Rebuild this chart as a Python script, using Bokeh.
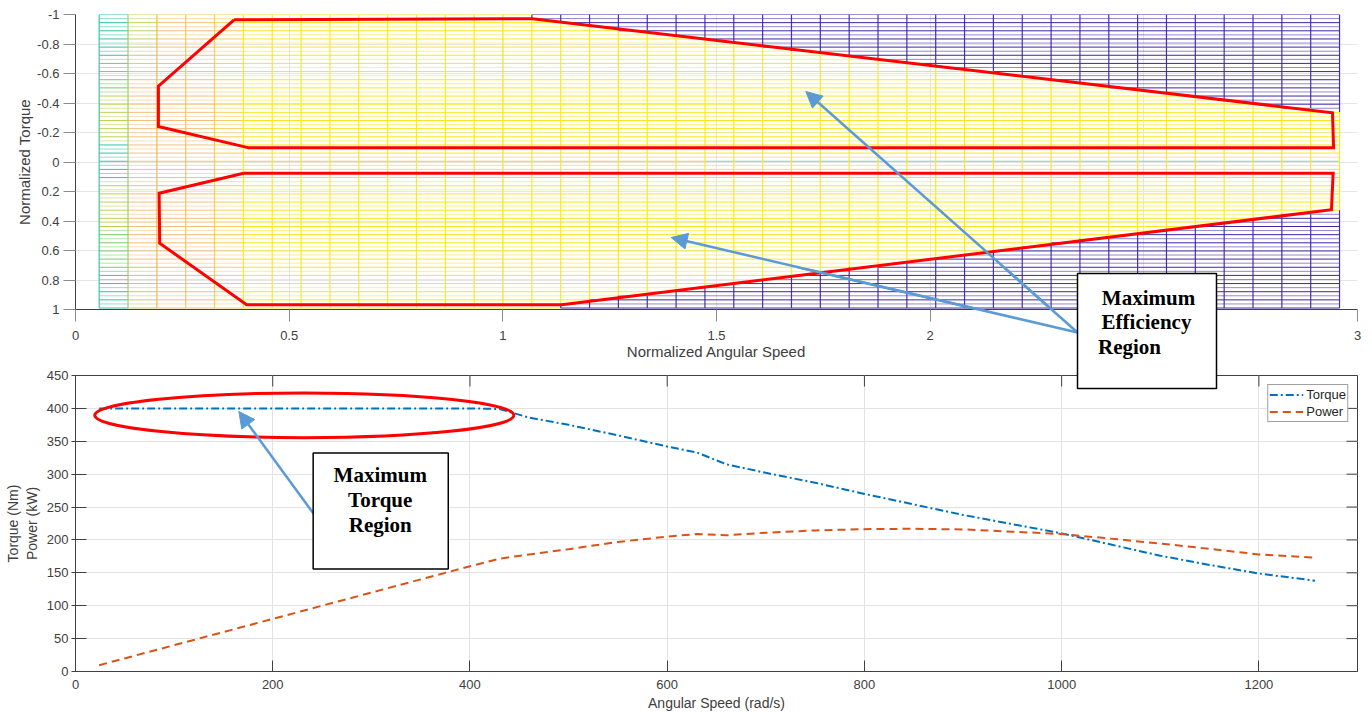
import numpy as np
from bokeh.plotting import figure
from bokeh.layouts import column
from bokeh.models import (Range1d, FixedTicker, CustomJSTickFormatter, Arrow, NormalHead,
                          Label, BoxAnnotation, Legend, LegendItem, ColumnDataSource)
from bokeh.embed import file_html
from bokeh.resources import INLINE

# ---------------- top panel: normalized efficiency map ----------------
# mesh grid of the map (first value, last value, number of grid lines)
mesh_speed_first, mesh_speed_last, mesh_speed_count = 0.0554, 2.958, 44
mesh_torque_first, mesh_torque_last, mesh_torque_count = -1.0, 0.99, 73

# colour zones of the map along the speed axis
zone_speed_edges = [0.123, 0.19, 0.325, 0.39]

# boundary of the low-efficiency (blue) area
low_eff_upper_speed = [1.06, 2.958]
low_eff_upper_torque = [-0.971, -0.33]
low_eff_lower_speed = [1.13, 2.958]
low_eff_lower_torque = [0.968, 0.317]

# red outlines of the maximum efficiency regions
upper_region_speed = [0.371, 1.069, 2.9415, 2.944, 0.406, 0.194, 0.194, 0.371]
upper_region_torque = [-0.964, -0.971, -0.334, -0.096, -0.096, -0.241, -0.514, -0.964]
lower_region_speed = [0.3935, 2.943, 2.939, 1.138, 0.4005, 0.197, 0.1957, 0.3935]
lower_region_torque = [0.076, 0.076, 0.324, 0.968, 0.968, 0.5505, 0.2115, 0.076]

top_x_ticks = [0, 0.5, 1, 1.5, 2, 2.5, 3]
top_y_ticks = [-1, -0.8, -0.6, -0.4, -0.2, 0, 0.2, 0.4, 0.6, 0.8, 1]

# ---------------- bottom panel: torque / power curves ----------------
speed = [24, 100, 200, 300, 400, 430, 460, 500, 550, 600, 630, 660, 700, 750, 800,
         850, 900, 950, 1000, 1050, 1100, 1150, 1200, 1257]
torque = [400, 400, 400, 400, 400, 399, 386, 375, 359, 342, 333, 315, 302, 287, 270,
          254, 238, 224, 210, 193, 176, 162, 149, 138]
power = [9.6, 40, 80, 120, 160, 171.5, 178, 186, 197, 205, 209, 207, 211, 214.5, 216.4,
         217, 216, 212.6, 209, 202, 194.5, 186.5, 178, 173]
bottom_x_ticks = [0, 200, 400, 600, 800, 1000, 1200]
bottom_y_ticks = [0, 50, 100, 150, 200, 250, 300, 350, 400, 450]

# ---------------- styling ----------------
FONT = "Liberation Sans"
SERIF = "Liberation Serif"
AX = "#404040"
TICKC = "#8c8c8c"
ARROWC = "#5B9BD5"
TEAL, GREEN, YGREEN = "#35c4a6", "#7ccb66", "#bcd34e"
OLIVE, PEACH, LORANGE = "#c5cf5e", "#f6bf78", "#f8cf55"
YELLOW, BLUE = "#fbe81a", "#3e26a8"
MIDGREEN, MIDORANGE = "#86d49c", "#f3c068"

mesh_speed = np.linspace(mesh_speed_first, mesh_speed_last, mesh_speed_count)
mesh_torque = np.linspace(mesh_torque_first, mesh_torque_last, mesh_torque_count)


def is_low_eff(x, y):
    if x >= low_eff_upper_speed[0] and y < np.interp(x, low_eff_upper_speed, low_eff_upper_torque):
        return True
    if x >= low_eff_lower_speed[0] and y > np.interp(x, low_eff_lower_speed, low_eff_lower_torque):
        return True
    return False


def cell_colour(x, y):
    if is_low_eff(x, y):
        return BLUE
    ay = abs(y)
    if x < zone_speed_edges[0]:
        if ay < 0.12 or ay > 0.72:
            return TEAL
        return YGREEN if ay < 0.45 else GREEN
    if x < zone_speed_edges[1]:
        return OLIVE if ay > 0.7 else PEACH
    if x < zone_speed_edges[2]:
        return PEACH
    if x < zone_speed_edges[3]:
        return LORANGE
    if ay < 0.015:
        return MIDGREEN if x > 1.5 else MIDORANGE
    if ay < 0.04:
        return MIDORANGE
    return YELLOW


vert_colours = [TEAL, "#94cc70", "#eeb452", "#f4c062", "#f7cd48"]

hx0, hy0, hx1, hy1, hc, ha, hw = [], [], [], [], [], [], []
# horizontal mesh lines (merged runs of equal colour)
for j, yv in enumerate(mesh_torque):
    a = 1.0 if j % 2 == 0 else 0.55
    run_start, run_col = mesh_speed[0], None
    for i in range(len(mesh_speed) - 1):
        c = cell_colour(0.5 * (mesh_speed[i] + mesh_speed[i + 1]), yv)
        if run_col is None:
            run_col = c
        elif c != run_col:
            hx0.append(run_start); hx1.append(mesh_speed[i]); hy0.append(yv); hy1.append(yv)
            hc.append(run_col); ha.append(a); hw.append(1)
            run_start, run_col = mesh_speed[i], c
    hx0.append(run_start); hx1.append(mesh_speed[-1]); hy0.append(yv); hy1.append(yv)
    hc.append(run_col); ha.append(a); hw.append(1)

vx0, vy0, vx1, vy1, vc, va, vw = [], [], [], [], [], [], []
# vertical mesh lines
for i, xv in enumerate(mesh_speed):
    run_start, run_col = mesh_torque[0], None
    for j in range(len(mesh_torque) - 1):
        ym = 0.5 * (mesh_torque[j] + mesh_torque[j + 1])
        if is_low_eff(xv, ym):
            c = BLUE
        elif i < len(vert_colours):
            c = vert_colours[i]
        else:
            c = YELLOW
        if run_col is None:
            run_col = c
        elif c != run_col:
            vx0.append(xv); vx1.append(xv); vy0.append(run_start); vy1.append(mesh_torque[j])
            vc.append(run_col); va.append(0.95); vw.append(1.2)
            run_start, run_col = mesh_torque[j], c
    vx0.append(xv); vx1.append(xv); vy0.append(run_start); vy1.append(mesh_torque[-1])
    vc.append(run_col); va.append(0.95); vw.append(1.2)

W = 1372
H1, H2 = 362, 351
p1 = figure(width=W, height=H1, x_range=Range1d(0, 3), y_range=Range1d(1, -1),
            output_backend="svg", toolbar_location=None,
            min_border_left=74, min_border_right=15, min_border_top=14, min_border_bottom=53)
p1.outline_line_color = None
p1.background_fill_color = "white"
p1.grid.grid_line_color = "#e6e6e6"
p1.xgrid.ticker = FixedTicker(ticks=top_x_ticks)
p1.ygrid.ticker = FixedTicker(ticks=top_y_ticks)

fmt = CustomJSTickFormatter(code="return String(Math.round(tick*10)/10);")
for ax, ticks in ((p1.xaxis[0], top_x_ticks), (p1.yaxis[0], top_y_ticks)):
    ax.ticker = FixedTicker(ticks=ticks)
    ax.formatter = fmt
    ax.major_tick_out = 12
    ax.major_tick_in = 0
    ax.minor_tick_line_color = None
    ax.major_tick_line_color = TICKC
    ax.axis_line_color = AX
    ax.major_label_text_font = FONT
    ax.major_label_text_font_size = "13px"
    ax.major_label_text_color = AX
    ax.axis_label_text_font = FONT
    ax.axis_label_text_font_size = "15px"
    ax.axis_label_text_font_style = "normal"
    ax.axis_label_text_color = AX
p1.xaxis.axis_label = "Normalized Angular Speed"
p1.xaxis.major_label_standoff = 9
p1.xaxis.axis_label_standoff = 0
p1.yaxis.axis_label = "Normalized Torque"
p1.yaxis.major_label_standoff = 4
p1.yaxis.axis_label_standoff = 1

p1.segment(x0="x0", y0="y0", x1="x1", y1="y1", line_color="c", line_alpha="a", line_width="w",
           source=ColumnDataSource(dict(x0=hx0, y0=hy0, x1=hx1, y1=hy1, c=hc, a=ha, w=hw)))
p1.segment(x0="x0", y0="y0", x1="x1", y1="y1", line_color="c", line_alpha="a", line_width="w",
           source=ColumnDataSource(dict(x0=vx0, y0=vy0, x1=vx1, y1=vy1, c=vc, a=va, w=vw)))
p1.line(upper_region_speed, upper_region_torque, line_color="red", line_width=3, line_join="miter")
p1.line(lower_region_speed, lower_region_torque, line_color="red", line_width=3, line_join="miter")

# annotation: maximum efficiency region; page pixel geometry of its text box
eff_box_left, eff_box_right, eff_box_top, eff_box_bottom = 1077, 1216, 273, 388
eff_arrow_start = (1077, 332)
eff_arrow_tips = [(1.709, -0.478), (1.394, 0.512)]       # in top-panel data units
eff_lines = [("Maximum", 1148, 297), ("Efficiency", 1146, 321), ("Region", 1129, 346)]

for tip_x, tip_y in eff_arrow_tips:
    p1.add_layout(Arrow(end=NormalHead(size=16, fill_color=ARROWC, line_color=ARROWC),
                        x_start=eff_arrow_start[0], y_start=eff_arrow_start[1],
                        start_units="canvas",
                        x_end=tip_x, y_end=tip_y,
                        line_color=ARROWC, line_width=2.5))

# ---------------- bottom figure ----------------
p2 = figure(width=W, height=H2, x_range=Range1d(0, 1300), y_range=Range1d(0, 450),
            output_backend="svg", toolbar_location=None,
            min_border_left=75, min_border_right=15, min_border_top=13, min_border_bottom=42)
p2.outline_line_color = AX
p2.grid.grid_line_color = "#e3e3e3"
p2.xgrid.ticker = FixedTicker(ticks=bottom_x_ticks)
p2.ygrid.ticker = FixedTicker(ticks=bottom_y_ticks)
p2.xaxis.ticker = FixedTicker(ticks=bottom_x_ticks)
p2.yaxis.ticker = FixedTicker(ticks=bottom_y_ticks)
for ax in (p2.xaxis[0], p2.yaxis[0]):
    ax.minor_tick_line_color = None
    ax.major_tick_line_color = AX
    ax.axis_line_color = AX
    ax.major_label_text_font = FONT
    ax.major_label_text_font_size = "13px"
    ax.major_label_text_color = AX
    ax.axis_label_text_font = FONT
    ax.axis_label_text_font_size = "14px"
    ax.axis_label_text_font_style = "normal"
    ax.axis_label_text_color = AX
p2.xaxis.major_tick_in = 11
p2.xaxis.major_tick_out = 0
p2.xaxis.major_label_standoff = 8
p2.xaxis.axis_label = "Angular Speed (rad/s)"
p2.xaxis.axis_label_standoff = 3
p2.yaxis.major_tick_in = 11
p2.yaxis.major_tick_out = 4
p2.yaxis.major_label_standoff = 3
p2.yaxis.axis_label = "Torque (Nm)\nPower (kW)"
p2.yaxis.axis_label_standoff = 4

# mirrored inward ticks on the top and right borders (at the tick values)
x_lo, x_hi = 0, 1300
y_lo, y_hi = 0, 450
tick_dx = 11 * (x_hi - x_lo) / 1282.0
tick_dy = 11 * (y_hi - y_lo) / 296.0
p2.segment(x0=bottom_x_ticks, y0=[y_hi] * len(bottom_x_ticks), x1=bottom_x_ticks,
           y1=[y_hi - tick_dy] * len(bottom_x_ticks), line_color=AX, line_width=1)
p2.segment(x0=[x_hi] * len(bottom_y_ticks), y0=bottom_y_ticks, x1=[x_hi - tick_dx] * len(bottom_y_ticks),
           y1=bottom_y_ticks, line_color=AX, line_width=1)

r_t = p2.line(speed, torque, line_color="#0072BD", line_width=2, line_dash="8 3 2 3")
r_p = p2.line(speed, power, line_color="#D95319", line_width=2, line_dash="8 5")

legend = Legend(items=[LegendItem(label="Torque", renderers=[r_t]),
                       LegendItem(label="Power", renderers=[r_p])],
                location="top_right", margin=9, padding=1, spacing=0,
                glyph_width=34, glyph_height=17, label_height=17, label_standoff=3,
                label_text_font=FONT, label_text_font_size="13px", label_text_color="#262626",
                border_line_color="#404040", border_line_width=1, background_fill_alpha=1)
p2.add_layout(legend)

# annotation: maximum torque region
p2.ellipse(x=[232], y=[389.5], width=[425], height=[68], fill_alpha=0,
           line_color="red", line_width=3)
p2.add_layout(Arrow(end=NormalHead(size=16, fill_color=ARROWC, line_color=ARROWC),
                    x_start=241.7, y_start=239.3, x_end=165.6, y_end=395.4,
                    line_color=ARROWC, line_width=2.5))
p2.add_layout(BoxAnnotation(left=241, right=378, top=332, bottom=156,
                            fill_color="white", fill_alpha=1, line_color="black", line_width=1.5,
                            line_alpha=1))
for txt, ly in (("Maximum", 298), ("Torque", 260), ("Region", 222.4)):
    p2.add_layout(Label(x=309, y=ly, text=txt, text_font=SERIF, text_font_style="bold",
                        text_font_size="21px", text_align="center", text_baseline="middle",
                        text_color="black"))

# ---------------- transparent overlay carrying the efficiency text box ----------------
OV_TOP, OV_H = 268, 124          # page position / height of the overlay strip
p3 = figure(width=W, height=OV_H, x_range=Range1d(0, 1), y_range=Range1d(0, 1),
            output_backend="svg", toolbar_location=None, x_axis_type=None, y_axis_type=None,
            min_border=0, min_border_left=0, min_border_right=0, min_border_top=0,
            min_border_bottom=0)
p3.outline_line_color = None
p3.grid.visible = False
p3.background_fill_alpha = 0
p3.border_fill_alpha = 0
p3.margin = (OV_TOP - H1 - H2, 0, 0, 0)

# p1 frame maps data -> page pixels; reuse its geometry for the arrow tails
for tip_x, tip_y in eff_arrow_tips:
    tip_px = 74 + tip_x * (1357 - 74) / 3.0
    tip_py = 161.5 + tip_y * (309 - 14) / 2.0
    p3.add_layout(Arrow(end=None, x_start=eff_arrow_start[0], y_start=eff_arrow_start[1] - OV_TOP,
                        x_end=tip_px, y_end=tip_py - OV_TOP,
                        start_units="canvas", end_units="canvas",
                        line_color=ARROWC, line_width=2.5))
p3.add_layout(BoxAnnotation(left=eff_box_left, right=eff_box_right,
                            top=eff_box_top - OV_TOP, bottom=eff_box_bottom - OV_TOP,
                            left_units="canvas", right_units="canvas",
                            top_units="canvas", bottom_units="canvas",
                            fill_color="white", fill_alpha=1, line_color="black", line_width=1.5,
                            line_alpha=1))
for txt, lx, ly in eff_lines:
    p3.add_layout(Label(x=lx, y=ly - OV_TOP, x_units="canvas", y_units="canvas", text=txt,
                        text_font=SERIF, text_font_style="bold",
                        text_font_size="21px", text_align="center", text_baseline="middle",
                        text_color="black"))

layout = column(p1, p2, p3, spacing=0)
open("out.html", "w").write(file_html(layout, INLINE))
